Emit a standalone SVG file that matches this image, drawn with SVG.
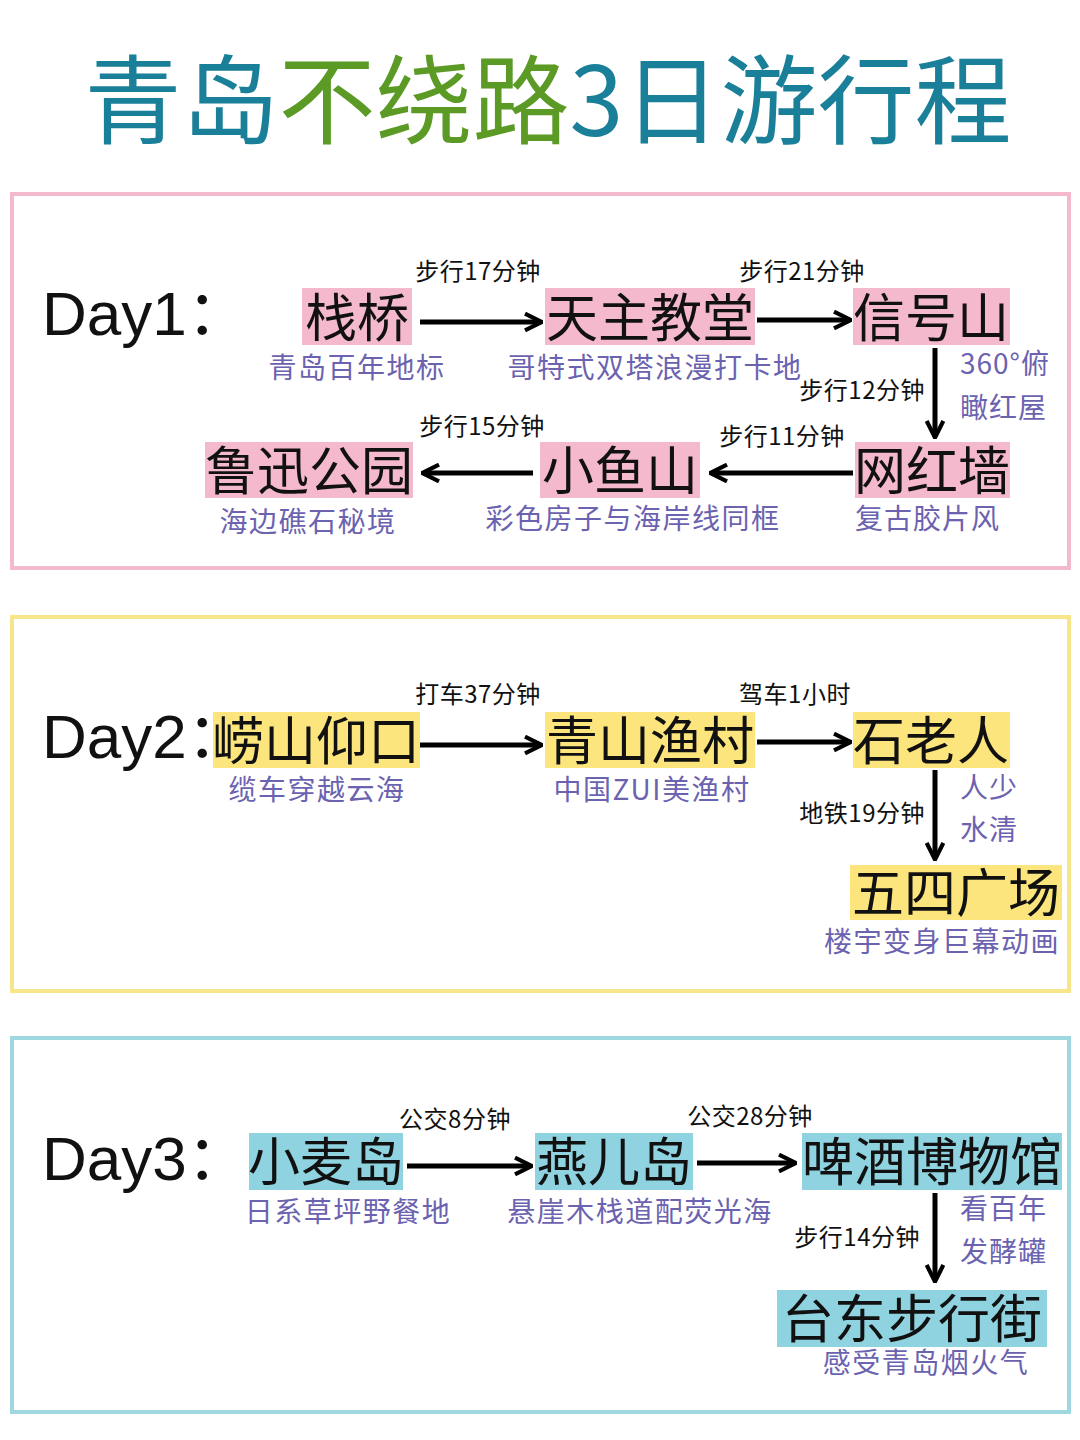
<svg xmlns="http://www.w3.org/2000/svg" width="1080" height="1440" viewBox="0 0 1080 1440">
<defs>
<marker id="ah" viewBox="0 0 12 12" refX="10" refY="6" markerWidth="4" markerHeight="4" orient="auto" markerUnits="strokeWidth">
<path d="M1,1 L11,6 L1,11" fill="none" stroke="#000" stroke-width="2.5"/>
</marker>
</defs>
<style>
text{font-family:"Noto Sans CJK SC","Liberation Sans",sans-serif}
.day{font-family:"Liberation Sans","Noto Sans CJK SC",sans-serif;font-size:62px;fill:#111}
.n{font-size:52px;fill:#111;text-anchor:middle}
.s{font-size:28px;letter-spacing:1.5px;fill:#6b62b0;text-anchor:middle}
.sl{font-size:28px;letter-spacing:1px;fill:#6b62b0}
.e{font-size:24px;letter-spacing:0.5px;fill:#111;text-anchor:middle}
.ee{font-size:24px;letter-spacing:0.5px;fill:#111;text-anchor:end}
.p{fill:#f5b9cd}.y{fill:#fbe57c}.b{fill:#8fd3e0}
.c line{stroke:#000;stroke-width:5;marker-end:url(#ah)}
</style>
<rect width="1080" height="1440" fill="#fff"/>
<text x="548" y="136" text-anchor="middle" font-size="97" fill="#1a7f98"><tspan>青岛</tspan><tspan fill="#5a9a25">不绕路</tspan><tspan>3日游行程</tspan></text>
<rect x="12" y="194" width="1057" height="374" fill="none" stroke="#f5b9cd" stroke-width="4"/>
<rect x="12" y="617" width="1057" height="374" fill="none" stroke="#f7e58a" stroke-width="4"/>
<rect x="12" y="1038" width="1057" height="374" fill="none" stroke="#9fd8e0" stroke-width="4"/>
<text class="day" x="42" y="335">Day1：</text>
<text class="day" x="42" y="758">Day2：</text>
<text class="day" x="42" y="1180">Day3：</text>
<g id="n1"><rect class="p" x="302" y="288" width="110" height="57"/><text class="n" x="357" y="337">栈桥</text><text class="s" x="357" y="378">青岛百年地标</text></g>
<g id="n2"><rect class="p" x="545" y="288" width="210" height="57"/><text class="n" x="650" y="337">天主教堂</text><text class="s" x="655" y="378">哥特式双塔浪漫打卡地</text></g>
<g id="n3"><rect class="p" x="853" y="288" width="157" height="57"/><text class="n" x="931" y="337">信号山</text><text class="sl" x="960" y="374">360°俯</text><text class="sl" x="960" y="418">瞰红屋</text></g>
<g id="n4"><rect class="p" x="855" y="442" width="155" height="56"/><text class="n" x="932" y="490">网红墙</text><text class="sl" x="855" y="529">复古胶片风</text></g>
<g id="n5"><rect class="p" x="540" y="442" width="160" height="56"/><text class="n" x="620" y="490">小鱼山</text><text class="s" x="633" y="529">彩色房子与海岸线同框</text></g>
<g id="n6"><rect class="p" x="205" y="442" width="208" height="56"/><text class="n" x="309" y="490">鲁迅公园</text><text class="s" x="308" y="532">海边礁石秘境</text></g>
<g id="n7"><rect class="y" x="213" y="712" width="207" height="56"/><text class="n" x="316" y="760">崂山仰口</text><text class="s" x="317" y="800">缆车穿越云海</text></g>
<g id="n8"><rect class="y" x="545" y="712" width="210" height="56"/><text class="n" x="650" y="760">青山渔村</text><text class="s" x="652" y="800">中国ZUI美渔村</text></g>
<g id="n9"><rect class="y" x="853" y="712" width="157" height="56"/><text class="n" x="931" y="760">石老人</text><text class="sl" x="960" y="798">人少</text><text class="sl" x="960" y="840">水清</text></g>
<g id="n10"><rect class="y" x="850" y="865" width="212" height="55"/><text class="n" x="956" y="912">五四广场</text><text class="s" x="942" y="952">楼宇变身巨幕动画</text></g>
<g id="n11"><rect class="b" x="249" y="1133" width="154" height="57"/><text class="n" x="326" y="1181">小麦岛</text><text class="s" x="348" y="1222">日系草坪野餐地</text></g>
<g id="n12"><rect class="b" x="535" y="1133" width="158" height="57"/><text class="n" x="614" y="1181">燕儿岛</text><text class="s" x="640" y="1222">悬崖木栈道配荧光海</text></g>
<g id="n13"><rect class="b" x="802" y="1133" width="260" height="57"/><text class="n" x="932" y="1181">啤酒博物馆</text><text class="sl" x="960" y="1219">看百年</text><text class="sl" x="960" y="1262">发酵罐</text></g>
<g id="n14"><rect class="b" x="777" y="1290" width="270" height="57"/><text class="n" x="912" y="1338">台东步行街</text><text class="s" x="926" y="1373">感受青岛烟火气</text></g>
<g id="connectors" class="c">
<line x1="420" y1="322" x2="540" y2="322"/><text class="e" x="478" y="280">步行17分钟</text>
<line x1="757" y1="320" x2="849" y2="320"/><text class="e" x="802" y="280">步行21分钟</text>
<line x1="935" y1="348" x2="935" y2="436"/><text class="ee" x="925" y="399">步行12分钟</text>
<line x1="853" y1="473" x2="712" y2="473"/><text class="e" x="782" y="445">步行11分钟</text>
<line x1="533" y1="473" x2="424" y2="473"/><text class="e" x="482" y="435">步行15分钟</text>
<line x1="420" y1="745" x2="540" y2="745"/><text class="e" x="478" y="703">打车37分钟</text>
<line x1="757" y1="742" x2="849" y2="742"/><text class="e" x="795" y="703">驾车1小时</text>
<line x1="935" y1="770" x2="935" y2="858"/><text class="ee" x="925" y="822">地铁19分钟</text>
<line x1="407" y1="1166" x2="530" y2="1166"/><text class="e" x="455" y="1128">公交8分钟</text>
<line x1="697" y1="1163" x2="794" y2="1163"/><text class="e" x="750" y="1125">公交28分钟</text>
<line x1="935" y1="1193" x2="935" y2="1280"/><text class="ee" x="920" y="1246">步行14分钟</text>
</g>
</svg>
